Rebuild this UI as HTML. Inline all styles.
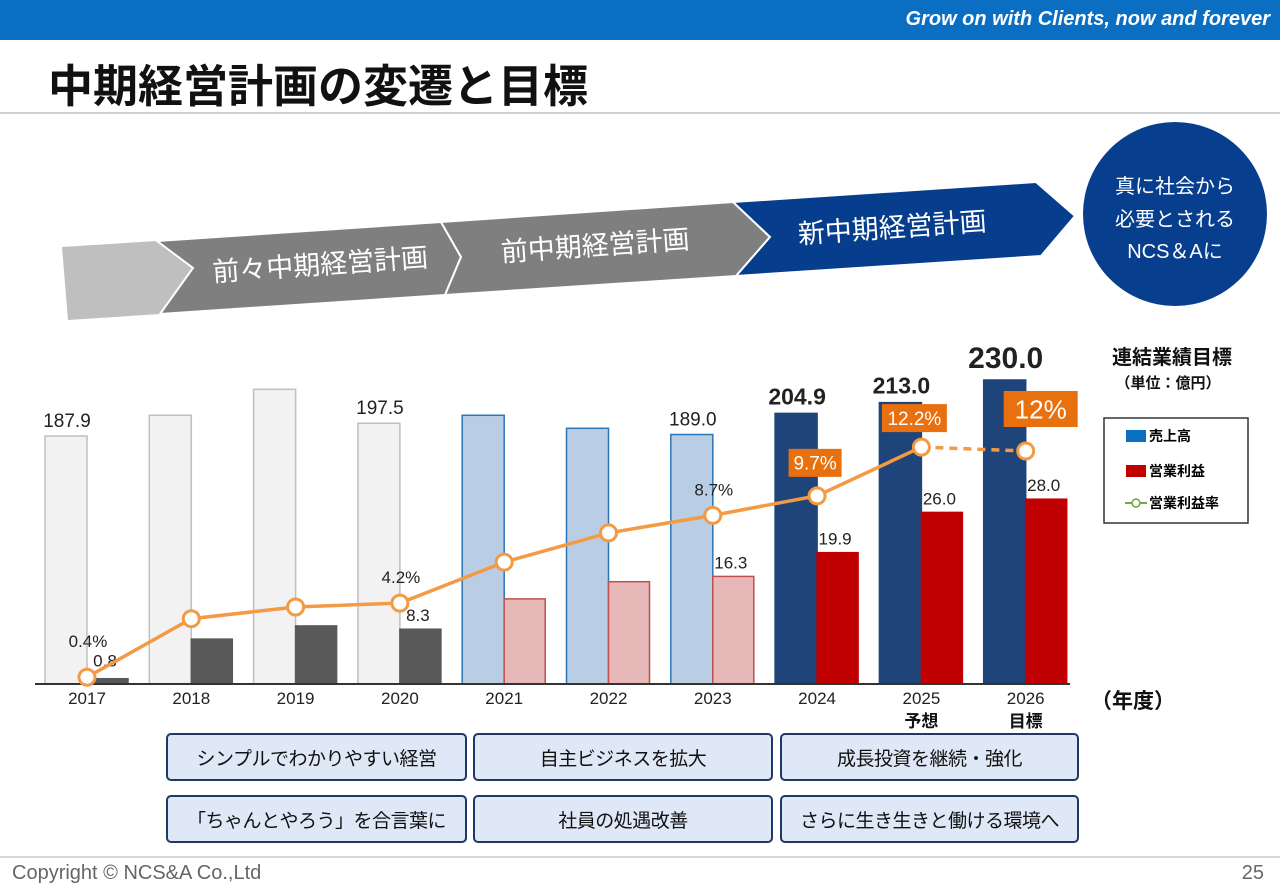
<!DOCTYPE html>
<html><head><meta charset="utf-8"><style>
body{margin:0;width:1280px;height:886px;overflow:hidden;background:#fff;font-family:"Liberation Sans","Noto Sans CJK JP",sans-serif;position:relative}
.abs{position:absolute}
.box{position:absolute;background:#dfe8f7;border:2px solid #1f3864;border-radius:5px;font-size:19px;color:#111;display:flex;align-items:center;justify-content:center;box-sizing:border-box;white-space:nowrap;letter-spacing:-0.5px}
</style></head><body>
<div class="abs" style="left:0;top:0;width:1280px;height:40px;background:#0a6fc2"></div>
<div class="abs" style="right:10px;top:8px;color:#fff;font-style:italic;font-weight:bold;font-size:20px">Grow on with Clients, now and forever</div>
<div class="abs" style="left:48px;top:50px;font-size:45px;font-weight:bold;color:#111">中期経営計画の変遷と目標</div>
<div class="abs" style="left:0;top:112px;width:1280px;height:2px;background:#d0d0d0"></div>

<svg class="abs" style="left:0;top:0" width="1280" height="886">
<polygon points="62,247 157,241 193,268 160,314 68,320" fill="#bfbfbf"/>
<polygon points="157,241 441,222 461,257 445,295 160,314 193,268" fill="#7f7f7f" stroke="#fff" stroke-width="2"/>
<polygon points="441,222 733,202 770,237 736,276 445,295 461,257" fill="#7f7f7f" stroke="#fff" stroke-width="2"/>
<polygon points="733,202 1036,182 1075,216 1041,256 736,276 770,237" fill="#063d8c" stroke="#fff" stroke-width="2"/>
<g font-size="27" fill="#fff">
<text x="320" y="274" text-anchor="middle" transform="rotate(-4 320 262)">前々中期経営計画</text>
<text x="595" y="255" text-anchor="middle" transform="rotate(-4 595 243)">前中期経営計画</text>
<text x="892" y="237" text-anchor="middle" transform="rotate(-4 892 225)">新中期経営計画</text>
</g>
<circle cx="1175" cy="214" r="92" fill="#073f8e"/>
<g font-size="20" fill="#fff" text-anchor="middle">
<text x="1175" y="193">真に社会から</text><text x="1175" y="226">必要とされる</text><text x="1175" y="258">NCS＆Aに</text>
</g>
<g id="chart"></g>
<g>
<text x="1172" y="364" font-size="20" font-weight="bold" text-anchor="middle" fill="#111">連結業績目標</text>
<text x="1168" y="388" font-size="15" font-weight="bold" text-anchor="middle" fill="#111">（単位：億円）</text>
<rect x="1104" y="418" width="144" height="105" fill="#fff" stroke="#333" stroke-width="1.5"/>
<rect x="1126" y="430" width="20" height="12" fill="#0a6fc2"/><text x="1149" y="441" font-size="14" font-weight="bold">売上高</text>
<rect x="1126" y="465" width="20" height="12" fill="#c00000"/><text x="1149" y="476" font-size="14" font-weight="bold">営業利益</text>
<line x1="1125" y1="503" x2="1147" y2="503" stroke="#7aa34a" stroke-width="2"/><circle cx="1136" cy="503" r="4" fill="#fff" stroke="#7aa34a" stroke-width="1.5"/><text x="1149" y="508" font-size="14" font-weight="bold">営業利益率</text>
</g>
<text x="1133" y="708" font-size="21" font-weight="bold" text-anchor="middle" fill="#111">（年度）</text>
<line x1="0" y1="857" x2="1280" y2="857" stroke="#ccc" stroke-width="1.5"/>
</svg>

<div class="box" style="left:166px;top:733px;width:301px;height:48px">シンプルでわかりやすい経営</div>
<div class="box" style="left:473px;top:733px;width:300px;height:48px">自主ビジネスを拡大</div>
<div class="box" style="left:780px;top:733px;width:299px;height:48px">成長投資を継続・強化</div>
<div class="box" style="left:166px;top:795px;width:301px;height:48px">「ちゃんとやろう」を合言葉に</div>
<div class="box" style="left:473px;top:795px;width:300px;height:48px">社員の処遇改善</div>
<div class="box" style="left:780px;top:795px;width:299px;height:48px">さらに生き生きと働ける環境へ</div>
<div class="abs" style="left:12px;top:862px;font-size:20px;color:#666">Copyright © NCS&amp;A Co.,Ltd</div>
<div class="abs" style="right:16px;top:862px;font-size:20px;color:#666">25</div>

<script>
const years=["2017","2018","2019","2020","2021","2022","2023","2024","2025","2026"];
const subLabels=["","","","","","","","","予想","目標"];
const sales=[187.9,203.5,223,197.5,203.5,193.7,189.0,204.9,213.0,230.0];
const profit=[0.8,6.8,8.8,8.3,12.9,15.5,16.3,19.9,26.0,28.0];
const rate=[0.4,3.4,4.0,4.2,6.3,7.8,8.7,9.7,12.2,12.0];
const salesLabels=["187.9","","","197.5","","","189.0","204.9","213.0","230.0"];
const profitLabels=["0.8","","","8.3","","","16.3","19.9","26.0","28.0"];
const rateLabels=["0.4%","","","4.2%","","","8.7%","9.7%","12.2%","12%"];
const NS="http://www.w3.org/2000/svg";
const g=document.getElementById('chart');
const base=684;
const xC=i=>87+i*104.3;
const ySales=v=>base-(248+(v-187.9)*1.33);
const yProfit=v=>base-v*6.6;
const yRate=v=>685-v*19.5;
function mk(t,a){const e=document.createElementNS(NS,t);for(const k in a)e.setAttribute(k,a[k]);g.appendChild(e);return e;}
function era(i){return i<4?0:(i<7?1:2);}
const sFill=["#f2f2f2","#b9cde5","#1f447a"],sStroke=["#bfbfbf","#2e75b6","#1f447a"];
const pFill=["#595959","#e6b9b8","#c00000"],pStroke=["#595959","#c0504d","#c00000"];
years.forEach((y,i)=>{
 const c=xC(i),e=era(i);
 const s=mk('rect',{x:c-42,y:ySales(sales[i]),width:42,height:base-ySales(sales[i]),fill:sFill[e],stroke:sStroke[e],'stroke-width':1.5});
 
 
 const p=mk('rect',{x:c,y:yProfit(profit[i]),width:41,height:base-yProfit(profit[i]),fill:pFill[e],stroke:pStroke[e],'stroke-width':1.5});
 
 
 const t=mk('text',{x:c,y:704,'font-size':17,'text-anchor':'middle',fill:'#222'});t.textContent=y;
 
 
 if(subLabels[i]){const u=mk('text',{x:c,y:727,'font-size':17,'font-weight':'bold','text-anchor':'middle',fill:'#111'});u.textContent=subLabels[i];}
 if(salesLabels[i]){const big=i>=7;const fs=i==9?30:(big?23:19);
  const l=mk('text',{x:c-20,y:ySales(sales[i])-(i==9?12:9),'font-size':fs,'text-anchor':'middle',fill:'#222','font-weight':big?'bold':'normal'});l.textContent=salesLabels[i];
  
  }
 if(profitLabels[i]){const l=mk('text',{x:c+18,y:yProfit(profit[i])-(i==0?12:8),'font-size':17,'text-anchor':'middle',fill:'#222'});l.textContent=profitLabels[i];
  
  }
});
mk('line',{x1:35,y1:base,x2:1070,y2:base,stroke:'#333','stroke-width':2});
let d='';for(let i=0;i<9;i++)d+=(i?'L':'M')+xC(i)+' '+yRate(rate[i]);
const ln=mk('path',{d:d,fill:'none',stroke:'#f39a45','stroke-width':3.5});


const dl=mk('line',{x1:xC(8),y1:yRate(rate[8]),x2:xC(9),y2:yRate(rate[9]),stroke:'#f39a45','stroke-width':3.5,'stroke-dasharray':'8 6'});


years.forEach((y,i)=>{
 const c=xC(i);
 const pt=mk('circle',{cx:c,cy:yRate(rate[i]),r:8,fill:'#fff',stroke:'#f39a45','stroke-width':3});
 
 
 if(!rateLabels[i])return;
 const yy=yRate(rate[i]);
 if(i>=7){
  const w=i==9?74:(i==8?65:53),h=i==9?36:28,fs=i==9?26:19;
  const cx=i==9?c+15:(i==8?c-7:c-2);
  const top=i==9?yy-60:(i==8?yy-43:yy-47);
  mk('rect',{x:cx-w/2,y:top,width:w,height:h,fill:'#e8700f'});
  const t=mk('text',{x:cx,y:top+h/2+fs*0.36,'font-size':fs,'text-anchor':'middle',fill:'#fff'});t.textContent=rateLabels[i];
  
  
 }else{
  const t=mk('text',{x:c+1,y:yy-(i==0?30:20),'font-size':17,'text-anchor':'middle',fill:'#222'});t.textContent=rateLabels[i];
  
  
 }
});
</script>
</body></html>
